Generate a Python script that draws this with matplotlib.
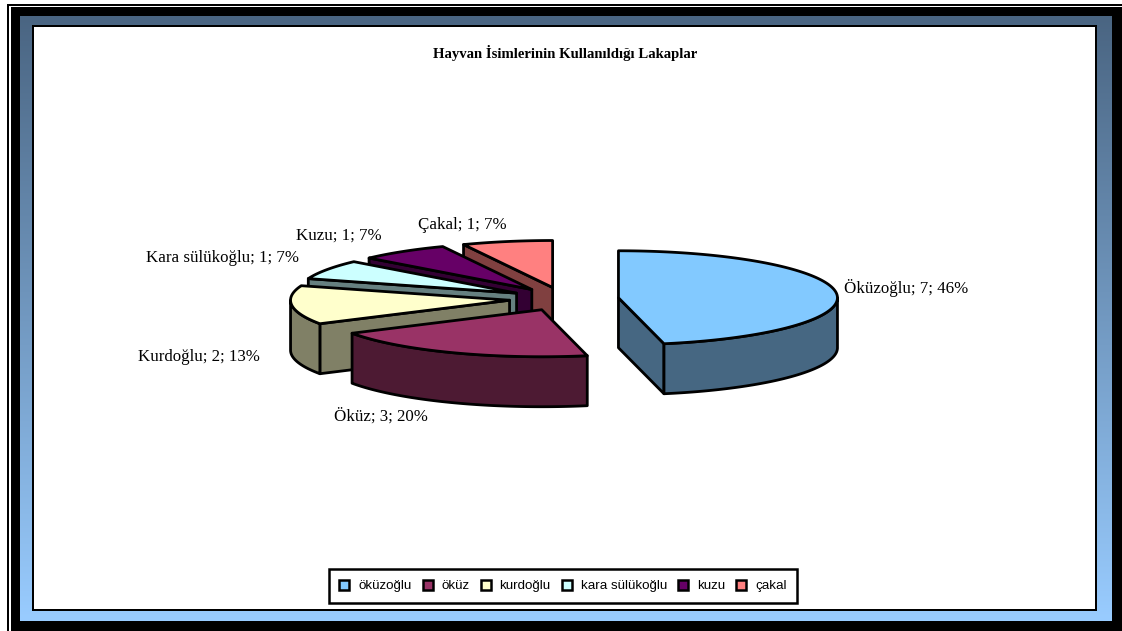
import numpy as np
import matplotlib
matplotlib.use("Agg")
import matplotlib.pyplot as plt
from matplotlib.patches import Rectangle, Patch
from matplotlib.colors import LinearSegmentedColormap

title = "Hayvan İsimlerinin Kullanıldığı Lakaplar"
legend_names = ["öküzoğlu", "öküz", "kurdoğlu", "kara sülükoğlu", "kuzu", "çakal"]
label_names = ["Öküzoğlu", "Öküz", "Kurdoğlu", "Kara sülükoğlu", "Kuzu", "Çakal"]
values = [7, 3, 2, 1, 1, 1]
percents = [46, 20, 13, 7, 7, 7]

top_colors = ["#82c9ff", "#993366", "#ffffcc", "#ccffff", "#660066", "#ff8080"]
side_colors = ["#466782", "#4d1a33", "#808066", "#668080", "#330033", "#804040"]
label_pos = [(844, 288), (334, 416), (138, 357), (146, 258), (296, 236), (418, 225)]

CX, CY, RX, RY, DEPTH, EXPLODE = 564, 299, 219, 47, 50, 0.25
W, H = 1122, 631

fig = plt.figure(figsize=(W / 100, H / 100), dpi=100, facecolor="white")
ax = fig.add_axes([0, 0, 1, 1])
ax.set_axis_off()


def box(x0, y0, x1, y1, color, z):
    ax.add_patch(Rectangle((x0, y0), x1 - x0, y1 - y0, fc=color, ec="none", zorder=z))


box(7, 4, W, H, "black", 1)
box(9, 6, W, H, "white", 2)
box(11, 7, W, H, "black", 3)
cmap = LinearSegmentedColormap.from_list("frame", ["#4a6582", "#99ccff"])
ax.imshow(np.linspace(0, 1, 256)[:, None], extent=(20, 1112, 621, 16), cmap=cmap,
          aspect="auto", zorder=4, interpolation="bilinear")
box(32, 25, 1097, 611, "black", 5)
box(34, 27, 1095, 609, "white", 6)
ax.set_xlim(0, W)
ax.set_ylim(H, 0)


def pt(cx, cy, deg, dy=0.0):
    r = np.radians(deg)
    return cx + RX * np.sin(r), cy - RY * np.cos(r) + dy


def arc(cx, cy, a0, a1, dy=0.0):
    d = np.linspace(a0, a1, 120)
    return np.column_stack(pt(cx, cy, d, dy))


total = sum(values)
edges = np.concatenate([[0], np.cumsum(values)]) * 360.0 / total
kw = dict(ec="black", lw=2.0, joinstyle="round")
# back to front painter's order: last slice first, first slice on top
for i in range(len(values) - 1, -1, -1):
    a0, a1 = edges[i], edges[i + 1]
    mid = np.radians((a0 + a1) / 2)
    cx = CX + EXPLODE * RX * np.sin(mid)
    cy = CY - EXPLODE * RY * np.cos(mid)
    z = 10 + (len(values) - i)
    centre = np.array([[cx, cy]])
    # radial walls that face the viewer
    for ang, show in ((a0, a0 >= 180), (a1, a1 <= 180)):
        if show:
            px, py = pt(cx, cy, ang)
            ax.fill([cx, px, px, cx], [cy, py, py + DEPTH, cy + DEPTH],
                    fc=side_colors[i], zorder=z, **kw)
    # outer wall
    lo, hi = max(a0, 90), min(a1, 270)
    if lo < hi:
        poly = np.vstack([arc(cx, cy, lo, hi), arc(cx, cy, hi, lo, DEPTH)])
        ax.fill(poly[:, 0], poly[:, 1], fc=side_colors[i], zorder=z, **kw)
    # top face
    poly = np.vstack([centre, arc(cx, cy, a0, a1)])
    ax.fill(poly[:, 0], poly[:, 1], fc=top_colors[i], zorder=z, **kw)

serif = "Liberation Serif"
ax.text(565, 53, title, family=serif, fontsize=10.6, fontweight="bold",
        ha="center", va="center", zorder=40)
for name, v, p, (x, y) in zip(label_names, values, percents, label_pos):
    ax.text(x, y, f"{name}; {v}; {p}%", family=serif, fontsize=12.2,
            ha="left", va="center", zorder=40)

handles = [Patch(fc=c, ec="black", lw=1.8) for c in top_colors]
leg = ax.legend(handles, legend_names, loc="center", bbox_to_anchor=(563, 586),
                bbox_transform=ax.transData, ncol=6, frameon=True, fancybox=False,
                prop={"family": "Liberation Sans", "size": 9.6},
                handlelength=0.75, handleheight=0.75, handletextpad=0.65,
                columnspacing=0.85, borderpad=0.8, borderaxespad=0)
leg.set_zorder(40)
leg.get_frame().set(edgecolor="black", linewidth=1.8, facecolor="white", alpha=1)

fig.savefig("out.png", dpi=100, facecolor="white")
